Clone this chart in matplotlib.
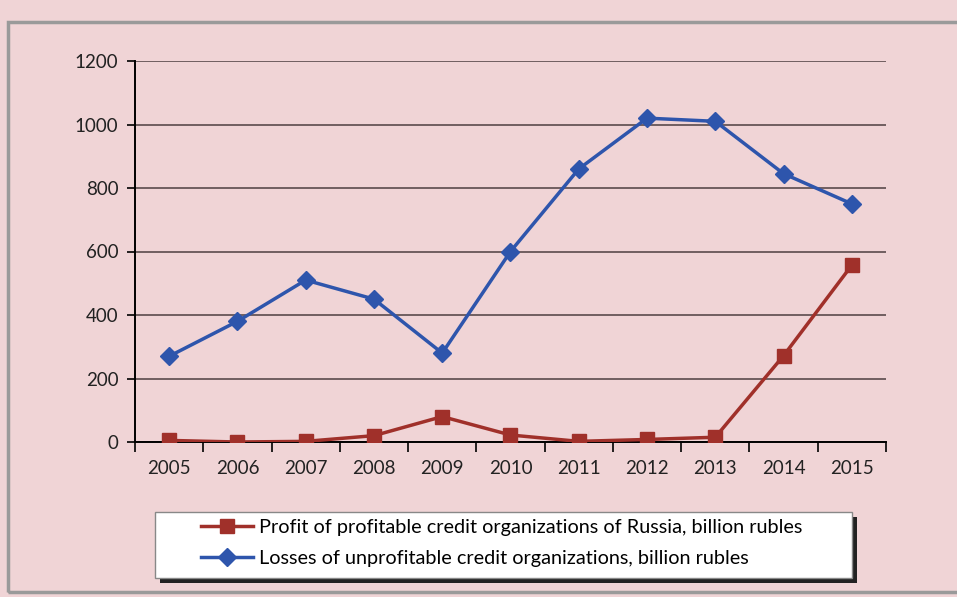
import matplotlib
matplotlib.use("Agg")
import matplotlib.pyplot as plt
from matplotlib.patches import Rectangle

years = ["2005", "2006", "2007", "2008", "2009", "2010", "2011", "2012", "2013", "2014", "2015"]
profit = [5, 0, 2, 20, 80, 22, 2, 8, 15, 272, 557]
losses = [270, 380, 510, 450, 280, 600, 860, 1020, 1010, 845, 750]
profit_label = "Profit of profitable credit organizations of Russia, billion rubles"
losses_label = "Losses of unprofitable credit organizations, billion rubles"

plt.rcParams['font.family'] = ['Lato', 'DejaVu Sans']

W, H = 957, 597
bg = "#F0D4D6"
fig = plt.figure(figsize=(W / 100, H / 100), dpi=100, facecolor=bg)

# outer frame
fig.patches.append(Rectangle((8 / W, 1 - 592 / H), 960 / W, (592 - 22) / H,
                             transform=fig.transFigure, fill=False,
                             edgecolor="#9A9A9A", linewidth=2.5, zorder=0))

ax = fig.add_axes([135 / W, 1 - 442 / H, (886 - 135) / W, (442 - 61) / H])
ax.set_facecolor(bg)
x = list(range(len(years)))
red = "#A0302A"
blue = "#2E55AC"
ax.plot(x, profit, color=red, lw=2.5, marker="s", markersize=10, label=profit_label, zorder=3)
ax.plot(x, losses, color=blue, lw=2.5, marker="D", markersize=9, label=losses_label, zorder=4)

ax.set_xlim(-0.5, len(years) - 0.5)
ax.set_ylim(0, 1200)
ax.set_yticks(range(0, 1201, 200))
ax.yaxis.grid(True, color="#5A4A4C", lw=1.2)
ax.set_axisbelow(True)
ax.set_xticks(x)
ax.set_xticklabels(years)
ax.set_xticks([i - 0.5 for i in range(len(years) + 1)], minor=True)
ax.tick_params(axis="x", which="major", length=0, pad=13, labelsize=13.5, labelcolor="#222222")
ax.tick_params(axis="x", which="minor", length=7, width=1.2, direction="out", color="black")
ax.tick_params(axis="y", length=6, width=1.2, pad=6, labelsize=13.5, labelcolor="#222222")
for s in ["top", "right"]:
    ax.spines[s].set_visible(False)
for s in ["left", "bottom"]:
    ax.spines[s].set_color("black")
    ax.spines[s].set_linewidth(1.4)

# legend box with shadow
lx0, ly0, lx1, ly1 = 155, 512, 852, 578
fig.patches.append(Rectangle(((lx0 + 5) / W, 1 - (ly1 + 5) / H), (lx1 - lx0) / W, (ly1 - ly0) / H,
                             transform=fig.transFigure, facecolor="#222222", edgecolor="none", zorder=1))
fig.patches.append(Rectangle((lx0 / W, 1 - ly1 / H), (lx1 - lx0) / W, (ly1 - ly0) / H,
                             transform=fig.transFigure, facecolor="white", edgecolor="#888888",
                             linewidth=1, zorder=2))
leg = fig.legend(loc="upper left", bbox_to_anchor=(195 / W, 1 - 513 / H), frameon=False,
                 fontsize=14.3, handlelength=2.6, handletextpad=0.3, labelspacing=0.7,
                 borderaxespad=0, borderpad=0.3)
leg.set_zorder(5)

fig.savefig("out.png", dpi=100, facecolor=bg)
